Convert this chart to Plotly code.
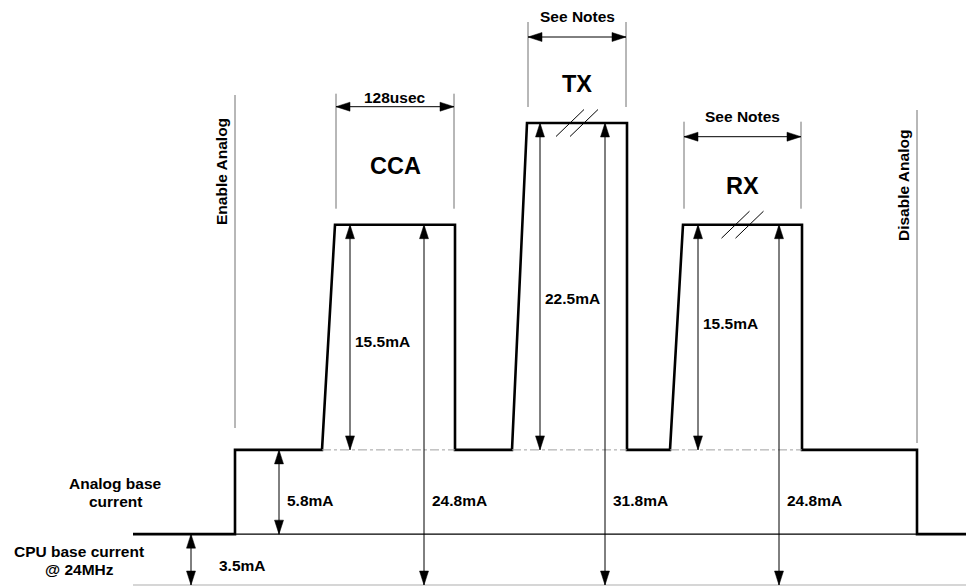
import plotly.graph_objects as go

# ---------------- data ----------------
phase_names = ["CCA", "TX", "RX"]
phase_delta_ma = [15.5, 22.5, 15.5]          # current added on top of analog base
phase_total_ma = [24.8, 31.8, 24.8]          # total current during phase
phase_duration_labels = ["128usec", "See Notes", "See Notes"]
phase_ramp_start = [322, 512, 670]           # time axis (arbitrary units)
phase_ramp_end = [335, 527, 683]
phase_fall = [455, 627, 802]
phase_has_break = [False, True, True]

base_names = ["CPU base current", "Analog base current"]
base_ma = [3.5, 5.8]                          # cpu base, analog base increment

event_names = ["Enable Analog", "Disable Analog"]
event_times = [235, 917]
time_span = [133, 966]

# ---------------- layout constants (styling / geometry) ----------------
W, H = 966, 588
GROUND_PX = 585.0
PX_PER_MA = (GROUND_PX - 123.0) / max(phase_total_ma)
FONT = "Liberation Sans"
FS = 15.5
FS_BIG = 23.5
WAVE_W = 2.6
THIN = 1.0
GRAY = "#707070"


def dy(px):
    return px / PX_PER_MA


def to_px(ma):
    return GROUND_PX - ma * PX_PER_MA


cpu_level = base_ma[0]
analog_level = base_ma[0] + base_ma[1]

# waveform
xs = [time_span[0], event_times[0], event_times[0]]
ys = [cpu_level, cpu_level, analog_level]
for rs, re, fl, d in zip(phase_ramp_start, phase_ramp_end, phase_fall, phase_delta_ma):
    xs += [rs, re, fl, fl]
    ys += [analog_level, analog_level + d, analog_level + d, analog_level]
xs += [event_times[1], event_times[1], time_span[1]]
ys += [analog_level, cpu_level, cpu_level]

fig = go.Figure()
shapes = []
annotations = []


def line(x0, y0, x1, y1, color="black", width=THIN, dash=None):
    d = dict(type="line", x0=x0, y0=y0, x1=x1, y1=y1, xref="x", yref="y",
             line=dict(color=color, width=width))
    if dash:
        d["line"]["dash"] = dash
    shapes.append(d)


def head(xt, yt, direction, length=14, half=4.5):
    # direction: 'up','down','left','right' ; tip at (xt,yt)
    if direction == "up":
        pts = [(xt, yt), (xt - half, yt - dy(length)), (xt + half, yt - dy(length))]
    elif direction == "down":
        pts = [(xt, yt), (xt - half, yt + dy(length)), (xt + half, yt + dy(length))]
    elif direction == "left":
        pts = [(xt, yt), (xt + length, yt + dy(half)), (xt + length, yt - dy(half))]
    else:
        pts = [(xt, yt), (xt - length, yt + dy(half)), (xt - length, yt - dy(half))]
    path = "M {} {} L {} {} L {} {} Z".format(*[v for p in pts for v in p])
    shapes.append(dict(type="path", path=path, xref="x", yref="y",
                       fillcolor="black", line=dict(color="black", width=0.5)))


def varrow(x, y_lo, y_hi):
    line(x, y_lo, x, y_hi)
    head(x, y_hi, "up")
    head(x, y_lo, "down")


def harrow(y, x0, x1):
    line(x0, y, x1, y)
    head(x0, y, "left")
    head(x1, y, "right")


def text(x, y, s, size=FS, xanchor="left", angle=0):
    annotations.append(dict(x=x, y=y, xref="x", yref="y", text=s, showarrow=False,
                            xanchor=xanchor, yanchor="middle", textangle=angle,
                            font=dict(family=FONT, size=size, color="black", weight="bold")))


# ground reference line
line(time_span[0], 0, time_span[1], 0, color="#c8c8c8", width=1.5)
# cpu base thin line across
line(event_times[0], cpu_level, event_times[1], cpu_level, color="black", width=1.2)
# dash-dot analog base under pulses
for rs, fl in zip(phase_ramp_start, phase_fall):
    line(rs, analog_level, fl, analog_level, color="#a0a0a0", width=1, dash="dashdot")

# waveform trace
fig.add_trace(go.Scatter(x=xs, y=ys, mode="lines", line=dict(color="black", width=WAVE_W),
                         hoverinfo="skip", showlegend=False))

# base current arrows
varrow(191, 0, cpu_level)
text(217, dy(GROUND_PX - 565), f"{base_ma[0]}mA")
varrow(event_times[0] + 44, cpu_level, analog_level)
text(event_times[0] + 50, dy(GROUND_PX - 500), f"{base_ma[1]}mA")

# left labels
text(115, dy(GROUND_PX - 483), "Analog base", xanchor="center")
text(115, dy(GROUND_PX - 501), "current", xanchor="center")
text(79, dy(GROUND_PX - 551), "CPU base current", xanchor="center")
text(79, dy(GROUND_PX - 569), "@ 24MHz", xanchor="center")

# enable / disable markers
event_top_px = [95, 110]
event_bottom_px = [428, 443]
event_text_px = [(221, 172), (903, 186)]
for t, name, top, bot, (tx, ty) in zip(event_times, event_names, event_top_px,
                                        event_bottom_px, event_text_px):
    line(t, dy(GROUND_PX - top), t, dy(GROUND_PX - bot), color=GRAY, width=1)
    text(tx, dy(GROUND_PX - ty), name, xanchor="center", angle=-90)

# phase annotations
dim_top_above = [131, 101, 103]
dim_arrow_above = [118, 86, 88]
dim_label_above = [127, 107, 108]
name_above = [59, 39, 39]
delta_label_px = [341, 298, 323]
delta_arrow_inset = [15, 13, 15]
total_arrow_inset = [31, 22, 23]

for i, name in enumerate(phase_names):
    re, fl = phase_ramp_end[i], phase_fall[i]
    peak = analog_level + phase_delta_ma[i]
    peak_px = to_px(peak)
    mid = (re + fl) / 2
    # extension lines
    for xe in (re + 1, fl - 1):
        line(xe, dy(GROUND_PX - (peak_px - dim_top_above[i])), xe,
             dy(GROUND_PX - (peak_px - 16)), color=GRAY, width=1)
    harrow(dy(GROUND_PX - (peak_px - dim_arrow_above[i])), re + 1, fl - 1)
    text(mid, dy(GROUND_PX - (peak_px - dim_label_above[i])), phase_duration_labels[i],
         xanchor="center")
    text(mid, dy(GROUND_PX - (peak_px - name_above[i])), name, size=FS_BIG, xanchor="center")
    # break marks
    if phase_has_break[i]:
        for c in (mid - 7, mid + 7):
            line(c - 14, peak - dy(13.5), c + 14, peak + dy(13.5), color="black", width=1)
    # delta arrow
    xd = re + delta_arrow_inset[i]
    varrow(xd, analog_level, peak)
    text(xd + 3, dy(GROUND_PX - delta_label_px[i]), f"{phase_delta_ma[i]}mA")
    # total arrow
    xt = fl - total_arrow_inset[i]
    varrow(xt, 0, phase_total_ma[i])
    text(xt + 6, dy(GROUND_PX - 500), f"{phase_total_ma[i]}mA")

fig.update_layout(
    width=W, height=H,
    margin=dict(l=0, r=0, t=0, b=0),
    paper_bgcolor="white", plot_bgcolor="white",
    xaxis=dict(range=[0, W], visible=False, fixedrange=True),
    yaxis=dict(range=[-dy(H - GROUND_PX), dy(GROUND_PX)], visible=False, fixedrange=True),
    shapes=shapes, annotations=annotations, showlegend=False,
)

fig.write_html("out.html", config={"displayModeBar": False},
               post_script="document.body.style.margin='0';document.body.style.overflow='hidden';")
